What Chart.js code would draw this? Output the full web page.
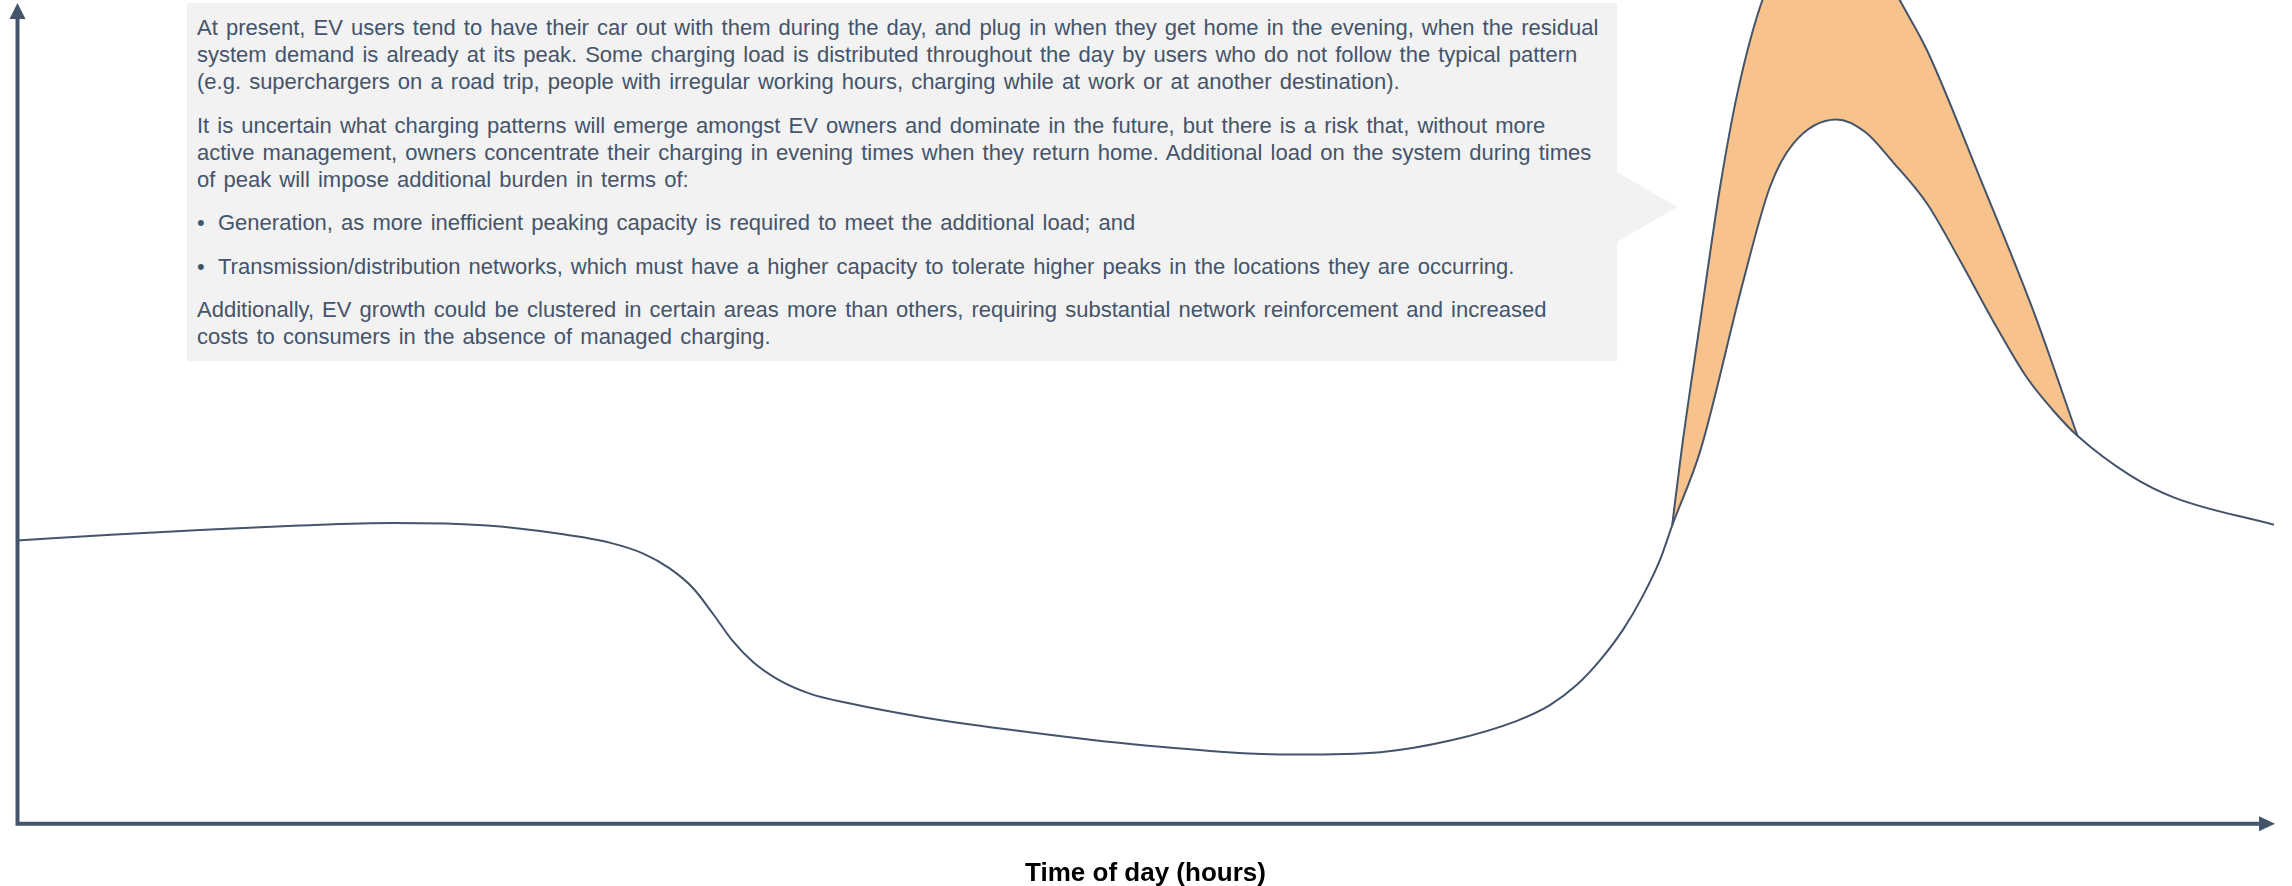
<!DOCTYPE html>
<html>
<head>
<meta charset="utf-8">
<script src="https://cdn.jsdelivr.net/npm/chart.js@4.4.0/dist/chart.umd.min.js"></script>
<style>
  body { margin: 0; background: #fff; }
  #wrap { position: relative; width: 2292px; height: 886px; }
  #note {
    position: absolute; left: 187px; top: 3px; width: 1430px; height: 358px;
    box-sizing: border-box; padding: 11px 10px 0 10px;
    background: #f2f2f2; color: #44546a;
    font-family: "Liberation Sans", Arial, sans-serif; font-size: 22px; line-height: 27px; word-spacing: 2px;
  }
  #note .p { margin-bottom: 16.5px; }
  #note .l { white-space: nowrap; }
  #note .b { position: relative; padding-left: 21px; }
  #note .b:before { content: "\2022"; position: absolute; left: 0; }
  #tip {
    position: absolute; left: 1617px; top: 172px; width: 0; height: 0;
    border-left: 60px solid #f2f2f2; border-top: 35px solid transparent; border-bottom: 35px solid transparent;
  }
</style>
</head>
<body>
<div id="wrap">
  <canvas id="loadChart" width="2292" height="886"></canvas>
  <div id="note">
    <div class="p">
      <div class="l">At present, EV users tend to have their car out with them during the day, and plug in when they get home in the evening, when the residual</div>
      <div class="l">system demand is already at its peak. Some charging load is distributed throughout the day by users who do not follow the typical pattern</div>
      <div class="l">(e.g. superchargers on a road trip, people with irregular working hours, charging while at work or at another destination).</div>
    </div>
    <div class="p">
      <div class="l">It is uncertain what charging patterns will emerge amongst EV owners and dominate in the future, but there is a risk that, without more</div>
      <div class="l">active management, owners concentrate their charging in evening times when they return home. Additional load on the system during times</div>
      <div class="l">of peak will impose additional burden in terms of:</div>
    </div>
    <div class="p b l">Generation, as more inefficient peaking capacity is required to meet the additional load; and</div>
    <div class="p b l">Transmission/distribution networks, which must have a higher capacity to tolerate higher peaks in the locations they are occurring.</div>
    <div class="p">
      <div class="l">Additionally, EV growth could be clustered in certain areas more than others, requiring substantial network reinforcement and increased</div>
      <div class="l">costs to consumers in the absence of managed charging.</div>
    </div>
  </div>
  <div id="tip"></div>
</div>
<script>
// system demand through the day (hours, relative load)
var hours = [0, 1, 2, 3, 4, 5, 5.77, 6.31, 6.66, 6.94, 7.19, 7.4, 7.61, 7.83, 8.08, 8.43, 8.86, 9.6, 10.5, 12, 13.6, 14.5,
             15.24, 15.95, 16.3, 16.59, 16.83, 17.08, 17.29, 17.47,
             17.6, 17.9, 18.35, 18.64, 18.89, 19.35, 19.65, 19.95, 20.31, 20.66, 21.01, 21.37, 21.65, 21.91, 22.47, 22.94, 24]
var load = [34.4, 35.1, 35.7, 36.2, 36.5, 36.2, 35.2, 34.1, 32.8, 31.0, 28.6, 25.5, 22.2, 19.6, 17.6, 15.8, 14.6, 13.0, 11.5, 9.5, 8.4, 8.7,
            10.1, 12.5, 14.4, 16.9, 19.8, 23.6, 27.7, 32.0,
            36.2, 45.3, 65.6, 77.3, 82.6, 85.5, 84.0, 80.3, 75.3, 68.4, 61.1, 54.2, 50.2, 47.1, 42.3, 39.6, 36.3]

// demand with unmanaged EV charging on top of the evening peak
var evHours = [17.6, 17.7, 17.9, 18.11, 18.3, 18.56, 18.9, 19.3, 19.7, 20.02, 20.31, 20.87, 21.44, 21.91]
var evLoad = [36.2, 45.3, 61.1, 77.3, 89.0, 100, 108, 111, 107, 100, 93.9, 78.5, 62.3, 47.1]

var lineColor = '#44546a'

function toPoints(xs, ys) {
    var pts = Array()
    for (var i = 0; i < xs.length; i++) {
        pts.push({x: xs[i], y: ys[i]})
    }
    return pts
}

// draws the two axis lines with arrow heads
const axisArrows = {
    id: 'axisArrows',
    afterDatasetsDraw(chart) {
        const ctx = chart.ctx
        const a = chart.chartArea
        const x0 = a.left + 0.5
        const y0 = a.bottom
        ctx.save()
        ctx.strokeStyle = lineColor
        ctx.fillStyle = lineColor
        ctx.lineWidth = 4
        ctx.beginPath()
        ctx.moveTo(x0, y0 + 2)
        ctx.lineTo(x0, a.top + 18)
        ctx.moveTo(x0 - 2, y0)
        ctx.lineTo(a.right - 15, y0)
        ctx.stroke()
        ctx.beginPath()
        ctx.moveTo(x0, a.top + 3)
        ctx.lineTo(x0 + 8, a.top + 19)
        ctx.lineTo(x0 - 8, a.top + 19)
        ctx.closePath()
        ctx.fill()
        ctx.beginPath()
        ctx.moveTo(a.right + 1, y0)
        ctx.lineTo(a.right - 15, y0 - 7.5)
        ctx.lineTo(a.right - 15, y0 + 7.5)
        ctx.closePath()
        ctx.fill()
        ctx.restore()
    }
}

const config = {
    type: 'line',
    data: {
        datasets: [{
            label: 'System demand',
            data: toPoints(hours, load),
            borderColor: lineColor,
            borderWidth: 2,
            pointRadius: 0,
            cubicInterpolationMode: 'monotone',
            fill: false
        }, {
            label: 'Demand with EV charging',
            data: toPoints(evHours, evLoad),
            borderColor: lineColor,
            borderWidth: 2,
            pointRadius: 0,
            cubicInterpolationMode: 'monotone',
            backgroundColor: '#f7c28b',
            fill: '-1'
        }]
    },
    options: {
        responsive: false,
        devicePixelRatio: 1,
        animation: false,
        layout: { padding: { left: 17, right: 18, top: 0, bottom: 0 } },
        plugins: { legend: { display: false }, tooltip: { enabled: false } },
        scales: {
            x: {
                type: 'linear', min: 0, max: 24,
                grid: { display: false }, border: { display: false },
                ticks: { display: false },
                title: {
                    display: true, text: 'Time of day (hours)', color: '#000',
                    font: { family: '"Liberation Sans", Arial, sans-serif', size: 26, weight: 'bold' },
                    padding: { top: 26, bottom: -3 }
                }
            },
            y: { display: false, min: 0, max: 100 }
        }
    },
    plugins: [axisArrows]
}

const loadChart = new Chart(document.getElementById('loadChart'), config)
</script>
</body>
</html>
